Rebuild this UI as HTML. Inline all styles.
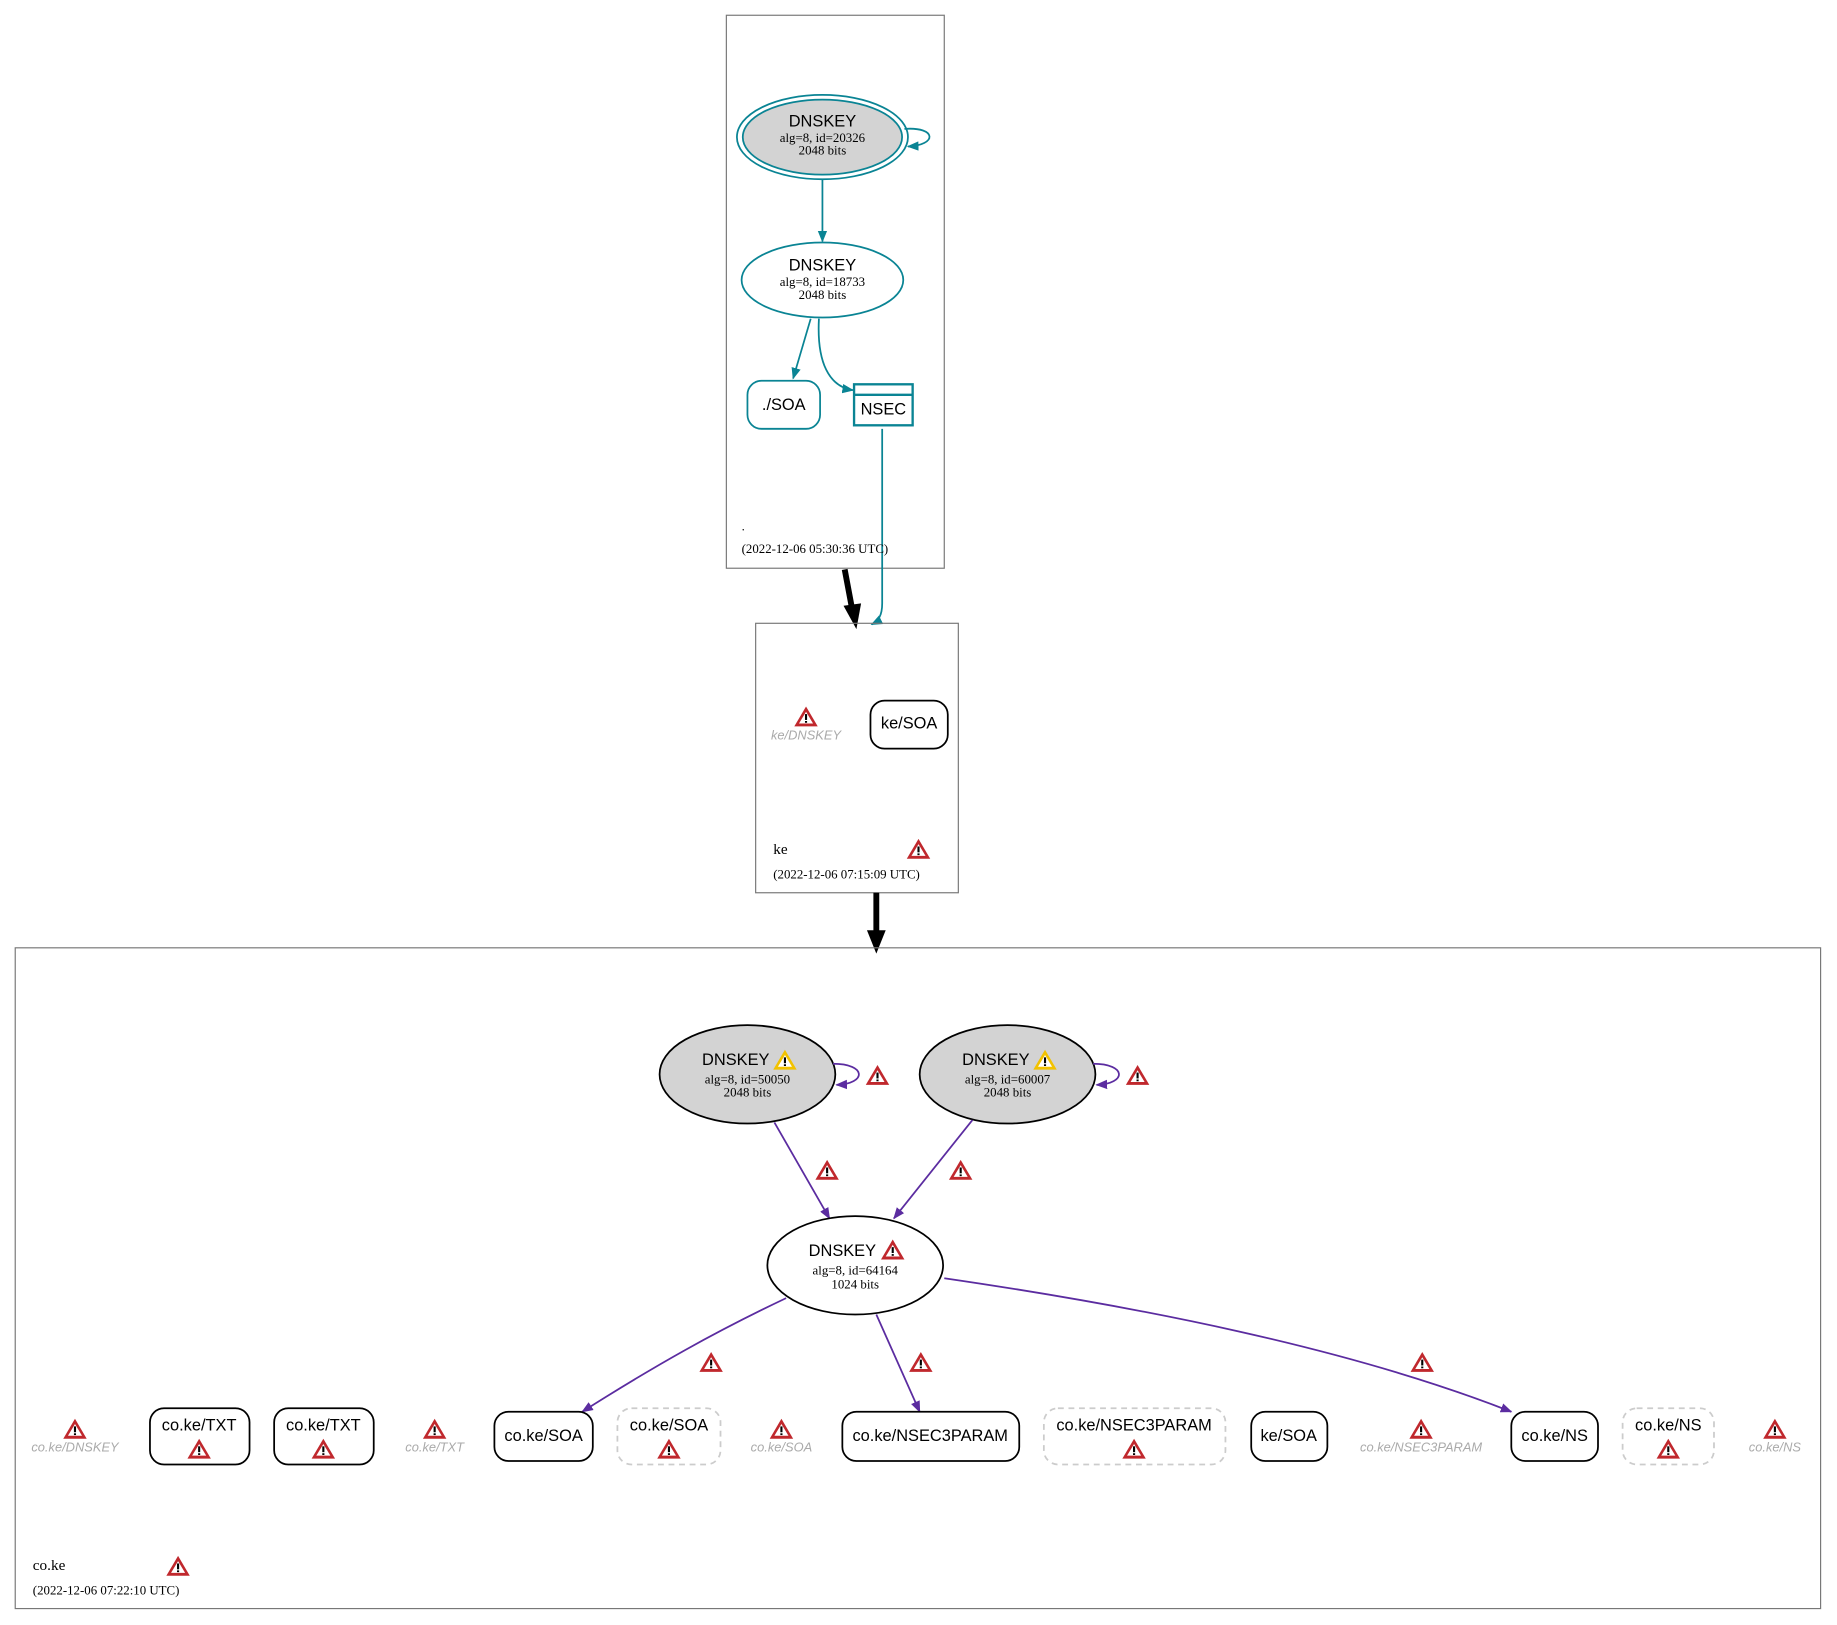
<!DOCTYPE html>
<html><head><meta charset="utf-8"><style>
html,body{margin:0;padding:0;background:#fff}
svg{display:block}
.s{font-family:"Liberation Sans",sans-serif;font-size:14px;text-anchor:middle}
.r{font-family:"Liberation Serif",serif;font-size:11px;text-anchor:middle}
.i{font-family:"Liberation Sans",sans-serif;font-size:11px;font-style:italic;fill:#aaa;text-anchor:middle}
.l{font-family:"Liberation Serif",serif;font-size:11px}
</style></head><body>
<svg width="1837" height="1625" viewBox="0 0 1568 1387" xmlns="http://www.w3.org/2000/svg">
<defs>
<symbol id="w" viewBox="-10 -9 20 18" overflow="visible">
<path d="M0,-9 L10,8 L-10,8 Z" fill="#c0282d"/>
<path d="M0,-4.5 L6,5.5 L-6,5.5 Z" fill="#fff"/>
<rect x="-0.9" y="-2.5" width="1.8" height="5" fill="#000"/>
<rect x="-0.9" y="3.4" width="1.8" height="1.5" fill="#000"/>
</symbol>
<symbol id="y" viewBox="-10 -9 20 18" overflow="visible">
<path d="M0,-9 L10,8 L-10,8 Z" fill="#f2c200"/>
<path d="M0,-4.5 L6,5.5 L-6,5.5 Z" fill="#fff"/>
<rect x="-0.9" y="-2.5" width="1.8" height="5" fill="#000"/>
<rect x="-0.9" y="3.4" width="1.8" height="1.5" fill="#000"/>
</symbol>
<marker id="at" markerWidth="10" markerHeight="10" refX="9" refY="5" orient="auto" markerUnits="userSpaceOnUse"><path d="M0,1 L10,5 L0,9Z" fill="#0a8494"/></marker>
<marker id="ap" markerWidth="10" markerHeight="10" refX="9" refY="5" orient="auto" markerUnits="userSpaceOnUse"><path d="M0,1 L10,5 L0,9Z" fill="#5b2ca0"/></marker>
</defs>

<rect x="620" y="13" width="186" height="472" fill="none" stroke="#777"/>
<ellipse cx="702" cy="117" rx="73" ry="36" fill="none" stroke="#0a8494" stroke-width="1.5"/>
<ellipse cx="702" cy="117" rx="68" ry="32" fill="#d3d3d3" stroke="#0a8494" stroke-width="1.5"/>
<text class="s" x="702" y="108">DNSKEY</text>
<text class="r" x="702" y="121">alg=8, id=20326</text>
<text class="r" x="702" y="132">2048 bits</text>
<path d="M772,110 C800,108 800,124 775,125" fill="none" stroke="#0a8494" stroke-width="1.5" marker-end="url(#at)"/>
<path d="M702,153 L702,206" stroke="#0a8494" stroke-width="1.5" marker-end="url(#at)"/>
<ellipse cx="702" cy="239" rx="69" ry="32" fill="#fff" stroke="#0a8494" stroke-width="1.5"/>
<text class="s" x="702" y="231">DNSKEY</text>
<text class="r" x="702" y="244">alg=8, id=18733</text>
<text class="r" x="702" y="255">2048 bits</text>
<path d="M692,272 L677,323" stroke="#0a8494" stroke-width="1.5" fill="none" marker-end="url(#at)"/>
<path d="M699,272 C697,310 708,330 728,333" stroke="#0a8494" stroke-width="1.5" fill="none" marker-end="url(#at)"/>
<rect x="638" y="325" width="62" height="41" rx="12" fill="#fff" stroke="#0a8494" stroke-width="1.5"/>
<text class="s" x="669" y="350">./SOA</text>
<rect x="729" y="328" width="50" height="35" fill="#fff" stroke="#0a8494" stroke-width="2"/>
<line x1="729" y1="337" x2="779" y2="337" stroke="#0a8494" stroke-width="2"/>
<text class="s" x="754" y="354">NSEC</text>
<path d="M753,366 L753,515 C753,525 750,530 744,533" stroke="#0a8494" stroke-width="1.5" fill="none" marker-end="url(#at)"/>
<text class="l" x="633" y="453">.</text>
<text class="l" x="633" y="472">(2022-12-06 05:30:36 UTC)</text>
<path d="M721,486 L727,518" stroke="#000" stroke-width="5"/>
<polygon points="720,517 735,515 731,537" fill="#000"/>

<rect x="645" y="532" width="173" height="230" fill="none" stroke="#777"/>
<use href="#w" x="678" y="603" width="20" height="18"/>
<text class="i" x="688" y="631">ke/DNSKEY</text>
<rect x="743" y="598" width="66" height="41" rx="12" fill="#fff" stroke="#000" stroke-width="1.5"/>
<text class="s" x="776" y="622">ke/SOA</text>
<text class="l" x="660" y="729" style="font-size:13px">ke</text>
<use href="#w" x="774" y="716" width="20" height="18"/>
<text class="l" x="660" y="750">(2022-12-06 07:15:09 UTC)</text>
<path d="M748,762 L748,795" stroke="#000" stroke-width="5"/>
<polygon points="740,794 756,794 748,814" fill="#000"/>

<rect x="13" y="809" width="1541" height="564" fill="none" stroke="#777"/>
<ellipse cx="638" cy="917" rx="75" ry="42" fill="#d3d3d3" stroke="#000" stroke-width="1.5"/>
<text class="s" x="628" y="909">DNSKEY</text>
<use href="#y" x="660" y="896" width="20" height="18"/>
<text class="r" x="638" y="925">alg=8, id=50050</text>
<text class="r" x="638" y="936">2048 bits</text>
<path d="M711,908 C740,908 740,925 714,926" fill="none" stroke="#5b2ca0" stroke-width="1.5" marker-end="url(#ap)"/>
<use href="#w" x="739" y="909" width="20" height="18"/>
<ellipse cx="860" cy="917" rx="75" ry="42" fill="#d3d3d3" stroke="#000" stroke-width="1.5"/>
<text class="s" x="850" y="909">DNSKEY</text>
<use href="#y" x="882" y="896" width="20" height="18"/>
<text class="r" x="860" y="925">alg=8, id=60007</text>
<text class="r" x="860" y="936">2048 bits</text>
<path d="M933,908 C962,908 962,925 936,926" fill="none" stroke="#5b2ca0" stroke-width="1.5" marker-end="url(#ap)"/>
<use href="#w" x="961" y="909" width="20" height="18"/>
<path d="M661,958 L708,1040" stroke="#5b2ca0" stroke-width="1.5" marker-end="url(#ap)"/>
<use href="#w" x="696" y="990" width="20" height="18"/>
<path d="M830,956 L763,1040" stroke="#5b2ca0" stroke-width="1.5" marker-end="url(#ap)"/>
<use href="#w" x="810" y="990" width="20" height="18"/>
<ellipse cx="730" cy="1080" rx="75" ry="42" fill="#fff" stroke="#000" stroke-width="1.5"/>
<text class="s" x="719" y="1072">DNSKEY</text>
<use href="#w" x="752" y="1058" width="20" height="18"/>
<text class="r" x="730" y="1088">alg=8, id=64164</text>
<text class="r" x="730" y="1100">1024 bits</text>
<path d="M671,1108 C610,1137 560,1165 497,1205" fill="none" stroke="#5b2ca0" stroke-width="1.5" marker-end="url(#ap)"/>
<use href="#w" x="597" y="1154" width="20" height="18"/>
<path d="M748,1122 L785,1205" stroke="#5b2ca0" stroke-width="1.5" marker-end="url(#ap)"/>
<use href="#w" x="776" y="1154" width="20" height="18"/>
<path d="M806,1091 C970,1115 1150,1150 1290,1205" fill="none" stroke="#5b2ca0" stroke-width="1.5" marker-end="url(#ap)"/>
<use href="#w" x="1204" y="1154" width="20" height="18"/>

<use href="#w" x="54" y="1211" width="20" height="18"/>
<text class="i" x="64" y="1239">co.ke/DNSKEY</text>
<rect x="128" y="1202" width="85" height="48" rx="12" fill="#fff" stroke="#000" stroke-width="1.5"/>
<text class="s" x="170" y="1221">co.ke/TXT</text>
<use href="#w" x="160" y="1228" width="20" height="18"/>
<rect x="234" y="1202" width="85" height="48" rx="12" fill="#fff" stroke="#000" stroke-width="1.5"/>
<text class="s" x="276" y="1221">co.ke/TXT</text>
<use href="#w" x="266" y="1228" width="20" height="18"/>
<use href="#w" x="361" y="1211" width="20" height="18"/>
<text class="i" x="371" y="1239">co.ke/TXT</text>
<rect x="422" y="1205" width="84" height="42" rx="12" fill="#fff" stroke="#000" stroke-width="1.5"/>
<text class="s" x="464" y="1230">co.ke/SOA</text>
<rect x="527" y="1202" width="88" height="48" rx="12" fill="#fff" stroke="#ccc" stroke-width="1.5" stroke-dasharray="5,4"/>
<text class="s" x="571" y="1221">co.ke/SOA</text>
<use href="#w" x="561" y="1228" width="20" height="18"/>
<use href="#w" x="657" y="1211" width="20" height="18"/>
<text class="i" x="667" y="1239">co.ke/SOA</text>
<rect x="719" y="1205" width="151" height="42" rx="12" fill="#fff" stroke="#000" stroke-width="1.5"/>
<text class="s" x="794" y="1230">co.ke/NSEC3PARAM</text>
<rect x="891" y="1202" width="155" height="48" rx="12" fill="#fff" stroke="#ccc" stroke-width="1.5" stroke-dasharray="5,4"/>
<text class="s" x="968" y="1221">co.ke/NSEC3PARAM</text>
<use href="#w" x="958" y="1228" width="20" height="18"/>
<rect x="1068" y="1205" width="65" height="42" rx="12" fill="#fff" stroke="#000" stroke-width="1.5"/>
<text class="s" x="1100" y="1230">ke/SOA</text>
<use href="#w" x="1203" y="1211" width="20" height="18"/>
<text class="i" x="1213" y="1239">co.ke/NSEC3PARAM</text>
<rect x="1290" y="1205" width="74" height="42" rx="12" fill="#fff" stroke="#000" stroke-width="1.5"/>
<text class="s" x="1327" y="1230">co.ke/NS</text>
<rect x="1385" y="1202" width="78" height="48" rx="12" fill="#fff" stroke="#ccc" stroke-width="1.5" stroke-dasharray="5,4"/>
<text class="s" x="1424" y="1221">co.ke/NS</text>
<use href="#w" x="1414" y="1228" width="20" height="18"/>
<use href="#w" x="1505" y="1211" width="20" height="18"/>
<text class="i" x="1515" y="1239">co.ke/NS</text>

<text class="l" x="28" y="1340" style="font-size:13px">co.ke</text>
<use href="#w" x="142" y="1328" width="20" height="18"/>
<text class="l" x="28" y="1361">(2022-12-06 07:22:10 UTC)</text>
</svg>
</body></html>
